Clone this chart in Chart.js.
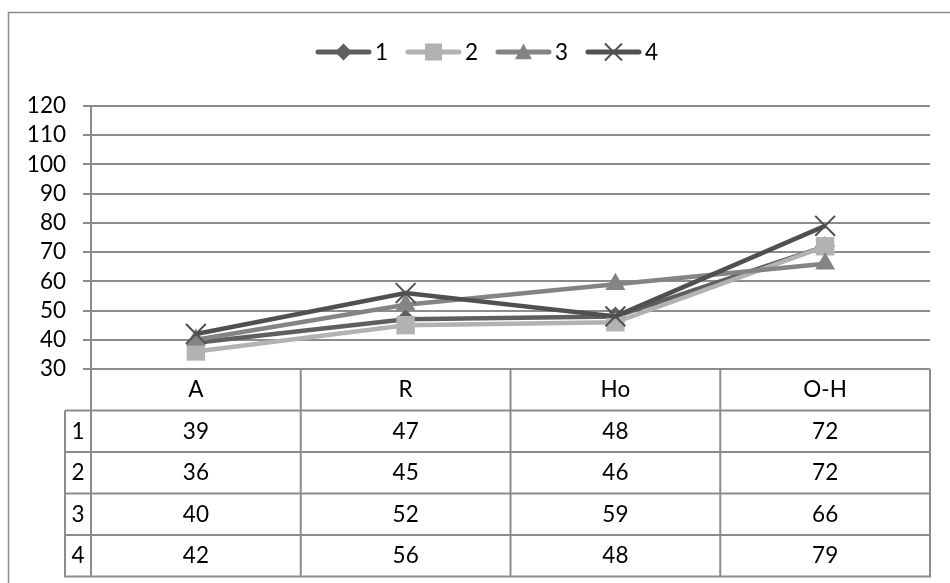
<!DOCTYPE html>
<html>
<head>
<meta charset="utf-8">
<script src="https://cdn.jsdelivr.net/npm/chart.js@4.4.0/dist/chart.umd.min.js"></script>
<style>
    body { margin: 0; background: #fff; }
</style>
</head>
<body>
<canvas id="myChart" width="950" height="583"></canvas>
<script>
const categories = ['A', 'R', 'Ho', 'O-H'];
const seriesNames = ['1', '2', '3', '4'];
const series1 = [39, 47, 48, 72];
const series2 = [36, 45, 46, 72];
const series3 = [40, 52, 59, 66];
const series4 = [42, 56, 48, 79];
const yMin = 30;
const yMax = 120;
const yStep = 10;

const colors = {
    s1: '#5f5f5f',
    s2: '#b2b2b2',
    s3: '#848484',
    s4: '#505050',
    grid: '#8c8c8c'
};

const fontFamily = 'Lato, "Open Sans", sans-serif';
const fontSize = 22.5;

function drawMarker(ctx, style, x, y, s, color) {
    ctx.fillStyle = color;
    ctx.strokeStyle = color;
    ctx.beginPath();
    if (style === 'rectRot') {
        ctx.moveTo(x, y - s);
        ctx.lineTo(x + s, y);
        ctx.lineTo(x, y + s);
        ctx.lineTo(x - s, y);
        ctx.closePath();
        ctx.fill();
    } else if (style === 'rect') {
        ctx.rect(x - s, y - s, 2 * s, 2 * s);
        ctx.fill();
    } else if (style === 'triangle') {
        ctx.moveTo(x, y - s);
        ctx.lineTo(x + s, y + s * 0.85);
        ctx.lineTo(x - s, y + s * 0.85);
        ctx.closePath();
        ctx.fill();
    } else if (style === 'crossRot') {
        ctx.lineWidth = 2;
        ctx.moveTo(x - s, y - s);
        ctx.lineTo(x + s, y + s);
        ctx.moveTo(x + s, y - s);
        ctx.lineTo(x - s, y + s);
        ctx.stroke();
    }
}

// legend (line + marker + label) and the data table under the plot
const extrasPlugin = {
    id: 'extras',
    afterDraw(chart) {
        const ctx = chart.ctx;
        const area = chart.chartArea;
        const xs = chart.scales.x;
        const sets = chart.data.datasets;
        ctx.save();
        ctx.font = fontSize + 'px ' + fontFamily;

        // outer frame
        ctx.strokeStyle = colors.grid;
        ctx.lineWidth = 1.5;
        ctx.strokeRect(8.5, 12.5, 960, 600);

        // legend
        const lineLen = 55, pitch = 90, legY = 52;
        const lastW = ctx.measureText(sets[sets.length - 1].label).width;
        const total = pitch * (sets.length - 1) + lineLen + 4 + lastW;
        let lx = 487 - total / 2;
        sets.forEach(ds => {
            ctx.strokeStyle = ds.borderColor;
            ctx.lineWidth = 5;
            ctx.lineCap = 'round';
            ctx.beginPath();
            ctx.moveTo(lx + 2, legY);
            ctx.lineTo(lx + lineLen - 2, legY);
            ctx.stroke();
            ctx.lineCap = 'butt';
            drawMarker(ctx, ds.pointStyle, lx + lineLen / 2, legY, 8.5, ds.borderColor);
            ctx.fillStyle = '#000';
            ctx.textAlign = 'left';
            ctx.textBaseline = 'middle';
            ctx.fillText(ds.label, lx + lineLen + 4, legY + 1);
            lx += pitch;
        });

        // table
        const n = categories.length;
        const colW = (area.right - area.left) / n;
        const headTop = area.bottom;
        const bodyTop = headTop + 41.5;
        const rowH = 41.5;
        const bottom = bodyTop + rowH * sets.length;
        const labelLeft = 65;
        ctx.strokeStyle = colors.grid;
        ctx.lineWidth = 2;
        ctx.beginPath();
        for (let r = 0; r <= sets.length; r++) {
            const y = bodyTop + r * rowH;
            ctx.moveTo(labelLeft, y);
            ctx.lineTo(area.right + 1, y);
        }
        for (let c = 0; c <= n; c++) {
            const cx = area.left + c * colW;
            ctx.moveTo(cx, headTop);
            ctx.lineTo(cx, bottom + 1);
        }
        ctx.moveTo(labelLeft, bodyTop);
        ctx.lineTo(labelLeft, bottom + 1);
        ctx.stroke();

        ctx.fillStyle = '#000';
        ctx.textAlign = 'center';
        ctx.textBaseline = 'middle';
        categories.forEach((cat, i) => {
            ctx.fillText(cat, xs.getPixelForValue(i), headTop + rowH / 2);
        });
        sets.forEach((ds, r) => {
            const cy = bodyTop + r * rowH + rowH / 2;
            ctx.fillText(ds.label, (labelLeft + area.left) / 2, cy);
            ds.data.forEach((v, i) => {
                ctx.fillText(String(v), xs.getPixelForValue(i), cy);
            });
        });
        ctx.restore();
    }
};

const data = {
    labels: categories,
    datasets: [
        {
            label: seriesNames[0],
            data: series1,
            borderColor: colors.s1,
            backgroundColor: colors.s1,
            pointStyle: 'rectRot',
            pointRadius: 10,
            pointBorderWidth: 0,
            order: 4
        },
        {
            label: seriesNames[1],
            data: series2,
            borderColor: colors.s2,
            backgroundColor: colors.s2,
            pointStyle: 'rect',
            pointRadius: 13,
            pointBorderWidth: 0,
            order: 3
        },
        {
            label: seriesNames[2],
            data: series3,
            borderColor: colors.s3,
            backgroundColor: colors.s3,
            pointStyle: 'triangle',
            pointRadius: 11.5,
            pointBorderWidth: 0,
            order: 2
        },
        {
            label: seriesNames[3],
            data: series4,
            borderColor: colors.s4,
            backgroundColor: colors.s4,
            pointStyle: 'crossRot',
            pointRadius: 14,
            pointBorderWidth: 2,
            order: 1
        }
    ]
};

const config = {
    type: 'line',
    data: data,
    options: {
        responsive: false,
        animation: false,
        elements: {
            line: { borderWidth: 4.5, tension: 0 }
        },
        layout: {
            padding: { top: 106, bottom: 214, left: 0, right: 20 }
        },
        scales: {
            x: {
                display: false,
                offset: true
            },
            y: {
                min: yMin,
                max: yMax,
                afterFit: function (scale) {
                    scale.width = 91;
                },
                ticks: {
                    stepSize: yStep,
                    autoSkip: false,
                    padding: 17,
                    color: '#000',
                    font: { family: fontFamily, size: fontSize }
                },
                grid: {
                    color: colors.grid,
                    lineWidth: 2,
                    tickLength: 8
                },
                border: {
                    color: colors.grid,
                    width: 2
                }
            }
        },
        plugins: {
            legend: { display: false },
            tooltip: { enabled: false }
        }
    },
    plugins: [extrasPlugin]
};

new Chart(document.getElementById('myChart'), config);
</script>
</body>
</html>
